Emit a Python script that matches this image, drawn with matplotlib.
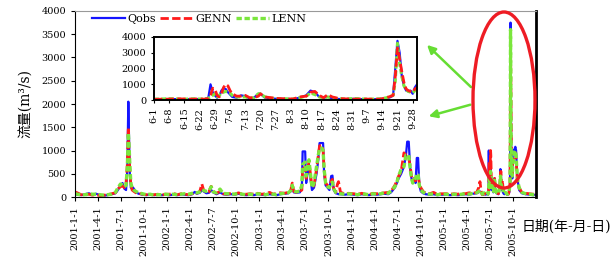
import matplotlib
matplotlib.use("Agg")
import matplotlib.pyplot as plt
import pandas as pd
from matplotlib.patches import Ellipse

plt.rcParams['font.family'] = ['DejaVu Serif', 'Noto Sans CJK SC']
plt.rcParams['axes.unicode_minus'] = False

# daily discharge (2001 .. 2005, without Jun-Sep 2005)
main_dates = [
    "2001-01-01", "2001-01-10", "2001-01-25", "2001-02-10", "2001-02-25", "2001-03-10", "2001-03-25",
    "2001-04-10", "2001-04-25", "2001-05-10", "2001-05-25", "2001-06-10", "2001-06-20", "2001-06-30",
    "2001-07-08", "2001-07-15", "2001-07-22", "2001-07-27", "2001-07-31", "2001-08-03", "2001-08-06",
    "2001-08-10", "2001-08-15", "2001-08-22", "2001-08-30", "2001-09-10", "2001-09-25", "2001-10-10",
    "2001-10-25", "2001-11-10", "2001-11-25", "2001-12-10", "2001-12-25",
    "2002-01-10", "2002-01-25", "2002-02-10", "2002-02-25", "2002-03-10", "2002-03-25", "2002-04-10",
    "2002-04-20", "2002-04-28", "2002-05-10", "2002-05-18", "2002-05-25", "2002-06-05", "2002-06-15",
    "2002-06-24", "2002-07-02", "2002-07-15", "2002-07-29", "2002-08-10", "2002-08-25", "2002-09-10",
    "2002-09-25", "2002-10-10", "2002-10-25", "2002-11-10", "2002-11-25", "2002-12-10", "2002-12-25",
    "2003-01-10", "2003-01-25", "2003-02-10", "2003-02-25", "2003-03-10", "2003-03-25", "2003-04-10",
    "2003-04-25", "2003-05-05", "2003-05-11", "2003-05-17", "2003-05-28", "2003-06-10", "2003-06-18",
    "2003-06-21", "2003-07-01", "2003-07-05", "2003-07-10", "2003-07-16", "2003-07-22", "2003-07-28",
    "2003-08-05", "2003-08-15", "2003-08-22", "2003-08-27", "2003-09-05", "2003-09-10", "2003-09-14",
    "2003-09-20", "2003-09-28", "2003-10-05", "2003-10-12", "2003-10-17", "2003-10-22", "2003-10-30",
    "2003-11-06", "2003-11-10", "2003-11-18", "2003-12-05", "2003-12-20",
    "2004-01-10", "2004-01-25", "2004-02-10", "2004-02-25", "2004-03-10", "2004-03-25", "2004-04-10",
    "2004-04-25", "2004-05-10", "2004-05-25", "2004-06-05", "2004-06-20", "2004-06-28", "2004-07-05",
    "2004-07-15", "2004-07-26", "2004-08-03", "2004-08-08", "2004-08-14", "2004-08-20", "2004-08-25",
    "2004-08-30", "2004-09-05", "2004-09-10", "2004-09-15", "2004-09-20", "2004-09-25", "2004-10-01",
    "2004-10-10", "2004-10-20", "2004-11-05", "2004-11-20", "2004-12-05", "2004-12-20",
    "2005-01-10", "2005-01-25", "2005-02-10", "2005-02-25", "2005-03-10", "2005-03-25", "2005-04-10",
    "2005-04-25", "2005-05-10", "2005-05-18", "2005-05-23", "2005-05-28",
    "2005-10-05", "2005-10-10", "2005-10-13", "2005-10-18", "2005-10-25", "2005-11-05", "2005-11-20",
    "2005-12-05", "2005-12-20", "2005-12-31",
]
main_qobs = [
    60, 50, 40, 60, 80, 50, 70, 40, 30, 40, 60, 80, 150, 250, 300, 180, 150, 600, 2050, 1200, 500,
    200, 220, 180, 100, 70, 50, 40, 60, 40, 50, 40, 50,
    40, 50, 40, 60, 50, 40, 60, 110, 70, 90, 150, 120, 80, 90, 150, 100, 60, 100, 60, 50, 60, 50,
    70, 50, 40, 50, 40, 60,
    50, 40, 60, 50, 40, 60, 70, 80, 120, 220, 100, 90, 100, 200, 980, 980, 300, 500, 700, 400, 150,
    200, 500, 800, 1160, 1160, 1160, 500, 250, 200, 150, 450, 460, 150, 80, 70, 60, 60, 50, 60,
    50, 40, 60, 50, 40, 60, 50, 60, 70, 60, 100, 200, 300, 400, 500, 650, 900, 1190, 1190, 600, 400,
    300, 400, 300, 840, 840, 250, 120, 80, 60, 50, 60, 40, 50,
    50, 40, 50, 40, 50, 60, 50, 70, 80, 100, 120, 90,
    1000, 1080, 1000, 400, 150, 80, 60, 50, 40, 50,
]
main_genn = [
    110, 90, 50, 40, 60, 40, 50, 30, 40, 50, 70, 90, 180, 220, 240, 200, 300, 700, 1500, 900, 600,
    250, 150, 120, 90, 80, 60, 50, 50, 50, 60, 40, 60,
    60, 80, 50, 70, 60, 50, 70, 90, 80, 120, 280, 150, 100, 110, 230, 120, 80, 120, 70, 60, 80, 60,
    90, 60, 60, 70, 60, 80,
    60, 70, 100, 60, 80, 90, 80, 100, 150, 300, 120, 100, 120, 150, 600, 650, 400, 600, 750, 500, 200,
    250, 600, 900, 1100, 1120, 1000, 600, 300, 250, 200, 350, 380, 180, 100, 280, 330, 100, 70, 80,
    70, 60, 80, 60, 50, 80, 70, 80, 90, 100, 120, 250, 350, 450, 550, 950, 900, 900, 850, 650, 450,
    330, 400, 350, 400, 450, 300, 200, 120, 80, 70, 100, 60, 70,
    70, 60, 70, 60, 80, 70, 90, 80, 100, 200, 330, 120,
    900, 950, 800, 350, 200, 100, 80, 70, 60, 60,
]
main_lenn = [
    70, 60, 45, 50, 70, 60, 60, 50, 40, 50, 60, 100, 200, 280, 260, 220, 250, 650, 1380, 1100, 700,
    300, 200, 150, 120, 90, 70, 50, 60, 40, 50, 50, 60,
    50, 60, 50, 60, 70, 60, 80, 100, 90, 110, 160, 140, 120, 130, 220, 110, 90, 170, 80, 70, 70, 60,
    80, 60, 50, 60, 50, 70,
    60, 50, 70, 60, 50, 70, 80, 90, 140, 250, 130, 110, 130, 250, 700, 750, 450, 650, 800, 500, 200,
    300, 650, 900, 1050, 1050, 1000, 600, 300, 220, 200, 300, 320, 180, 100, 90, 80, 70, 60, 70,
    60, 50, 70, 60, 50, 70, 60, 70, 90, 80, 130, 220, 320, 450, 600, 650, 900, 900, 900, 600, 400,
    300, 380, 400, 500, 480, 250, 150, 100, 80, 60, 70, 50, 60,
    60, 50, 60, 50, 60, 70, 60, 80, 90, 120, 150, 110,
    950, 1000, 900, 400, 200, 100, 70, 60, 50, 60,
]

# flood season 2005 (inset), Jun 1 .. Sep 30
inset_dates = [
    "2005-06-01", "2005-06-05", "2005-06-08", "2005-06-12", "2005-06-15", "2005-06-19", "2005-06-22",
    "2005-06-24", "2005-06-26", "2005-06-27", "2005-06-28", "2005-06-29", "2005-06-30", "2005-07-01",
    "2005-07-02", "2005-07-03", "2005-07-04", "2005-07-05", "2005-07-06", "2005-07-07", "2005-07-09",
    "2005-07-11", "2005-07-13", "2005-07-15", "2005-07-17", "2005-07-19", "2005-07-20", "2005-07-22",
    "2005-07-25", "2005-07-28", "2005-08-01", "2005-08-04", "2005-08-07", "2005-08-10", "2005-08-12",
    "2005-08-14", "2005-08-16", "2005-08-18", "2005-08-20", "2005-08-22", "2005-08-25", "2005-08-28",
    "2005-09-01", "2005-09-05", "2005-09-09", "2005-09-13", "2005-09-16", "2005-09-18", "2005-09-19",
    "2005-09-20", "2005-09-21", "2005-09-22", "2005-09-23", "2005-09-24", "2005-09-25", "2005-09-26",
    "2005-09-27", "2005-09-28", "2005-09-29", "2005-09-30",
]
inset_qobs = [
    60, 50, 70, 60, 50, 70, 60, 50, 150, 1000, 500, 300, 150, 250, 600, 750, 700, 500, 350, 200,
    150, 300, 250, 100, 150, 400, 400, 150, 100, 80, 70, 60, 150, 300, 600, 500, 200, 150, 200, 100,
    70, 60, 80, 60, 50, 70, 100, 200, 300, 2000, 3750, 3000, 1500, 900, 600, 550, 600, 400, 800, 1000,
]
inset_genn = [
    50, 60, 60, 80, 70, 60, 80, 60, 100, 300, 750, 700, 300, 200, 400, 800, 1000, 900, 600, 400,
    250, 250, 300, 150, 150, 250, 400, 200, 150, 100, 80, 70, 200, 250, 500, 550, 300, 150, 350, 200,
    100, 80, 60, 70, 60, 60, 150, 250, 300, 1500, 3300, 2600, 1800, 1100, 700, 600, 550, 500, 700, 800,
]
inset_lenn = [
    60, 70, 90, 70, 60, 80, 70, 60, 120, 200, 300, 400, 200, 300, 450, 500, 550, 500, 450, 300,
    200, 200, 200, 120, 150, 400, 400, 200, 120, 90, 80, 70, 150, 250, 450, 350, 200, 150, 200, 150,
    80, 70, 100, 70, 60, 80, 150, 250, 300, 1200, 3600, 2300, 1500, 900, 650, 550, 500, 450, 600, 700,
]

main_ticks = ["2001-01-01", "2001-04-01", "2001-07-01", "2001-10-01", "2002-01-01", "2002-04-01",
              "2002-07-01", "2002-10-01", "2003-01-01", "2003-04-01", "2003-07-01", "2003-10-01",
              "2004-01-01", "2004-04-01", "2004-07-01", "2004-10-01", "2005-01-01", "2005-04-01",
              "2005-07-01", "2005-10-01"]
main_tick_labels = ["2001-1-1", "2001-4-1", "2001-7-1", "2001-10-1", "2002-1-1", "2002-4-1",
                    "2002-7-7", "2002-10-1", "2003-1-1", "2003-4-1", "2003-7-1", "2003-10-1",
                    "2004-1-1", "2004-4-1", "2004-7-1", "2004-10-1", "2005-1-1", "2005-4-1",
                    "2005-7-1", "2005-10-1"]
inset_tick_labels = ["6-1", "6-8", "6-15", "6-22", "6-29", "7-6", "7-13", "7-20", "7-27", "8-3",
                     "8-10", "8-17", "8-24", "8-31", "9-7", "9-14", "9-21", "9-28"]

blue = "#1414ff"
red = "#ff1a1a"
green = "#7ae63c"

main = pd.DataFrame({"date": pd.to_datetime(main_dates), "qobs": main_qobs,
                     "genn": main_genn, "lenn": main_lenn})
flood = pd.DataFrame({"date": pd.to_datetime(inset_dates), "qobs": inset_qobs,
                      "genn": inset_genn, "lenn": inset_lenn})
full = pd.concat([main, flood]).sort_values("date")

fig = plt.figure(figsize=(6.16, 2.6), dpi=100)
ax = fig.add_axes([0.1218, 0.2423, 0.7484, 0.7154])
ax.plot(full["date"], full["qobs"], color=blue, lw=1.6, label="Qobs")
ax.plot(full["date"], full["genn"], color=red, lw=2.0, dashes=(3, 1.2), label="GENN")
ax.plot(full["date"], full["lenn"], color=green, lw=2.4, dashes=(1.6, 0.8), label="LENN")
ax.set_xlim(pd.Timestamp("2001-01-01"), pd.Timestamp("2005-12-31"))
ax.set_ylim(0, 4000)
ax.set_yticks(range(0, 4001, 500))
ax.set_xticks(pd.to_datetime(main_ticks))
ax.set_xticklabels(main_tick_labels, rotation=90)
ax.tick_params(labelsize=7, length=3, width=0.8)
ax.spines["top"].set_color("#999999")
ax.spines["right"].set_linewidth(2)
ax.legend(loc="upper left", bbox_to_anchor=(0.02, 1.025), ncol=3, frameon=False, fontsize=8,
          handlelength=3.0, handletextpad=0.2, columnspacing=0.35, borderpad=0.2)

ins = fig.add_axes([0.25, 0.615, 0.427, 0.243])
ins.plot(flood["date"], flood["qobs"], color=blue, lw=1.6)
ins.plot(flood["date"], flood["lenn"], color=green, lw=2.2, dashes=(1.6, 0.8))
ins.plot(flood["date"], flood["genn"], color=red, lw=2.0, dashes=(3, 1.2))
ins.set_xlim(pd.Timestamp("2005-06-01"), pd.Timestamp("2005-09-30"))
ins.set_ylim(0, 4000)
ins.set_yticks(range(0, 4001, 1000))
ins.set_xticks(pd.date_range("2005-06-01", periods=len(inset_tick_labels), freq="7D"))
ins.set_xticklabels(inset_tick_labels, rotation=90)
ins.tick_params(labelsize=7, length=2, width=0.8)
for s in ins.spines.values():
    s.set_linewidth(1.4)

fig.add_artist(Ellipse((504 / 616, 1 - 100 / 260), 62 / 616, 176 / 260, transform=fig.transFigure,
                       fill=False, edgecolor="#ee1c24", lw=2.4))
for head, tail in [((425, 43), (473, 89)), ((426, 117), (473, 104))]:
    ax.annotate("", xy=(head[0] / 616, 1 - head[1] / 260), xycoords="figure fraction",
                xytext=(tail[0] / 616, 1 - tail[1] / 260), textcoords="figure fraction",
                arrowprops=dict(arrowstyle="-|>", color="#66dd33", lw=1.8, mutation_scale=12))

fig.text(0.043, 0.6, "流量(m³/s)", rotation=90, fontsize=10, ha="center", va="center")
fig.text(0.846, 0.127, "日期(年-月-日)", fontsize=10, ha="left", va="center")

fig.savefig("out.png", dpi=100)
